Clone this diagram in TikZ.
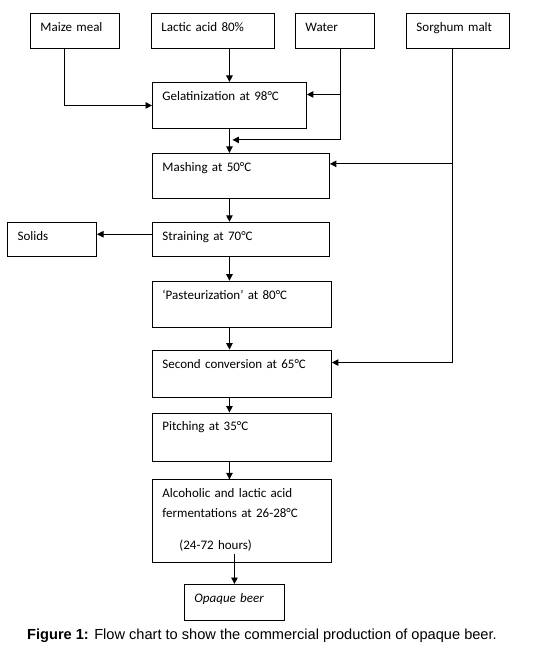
\documentclass[tikz,border=0pt]{standalone}
\usepackage{fontspec}
\setmainfont{Carlito}
\newfontfamily\arialfont{Liberation Sans}
\usepackage{tikz}
\usetikzlibrary{arrows.meta,calc,positioning}
\tikzset{
  caja/.style={
    draw,
    line width=.9pt,
    anchor=north west,
    align=left,
    inner xsep=10pt,
    inner ysep=0pt,
    text height=18pt,
    font=\fontsize{13}{20}\selectfont
  },
  flecha/.style={
    -{Triangle[length=6.5pt,width=6.5pt]},
    line width=.9pt
  }
}

\begin{document}
\begin{tikzpicture}[x=1pt,y=-1pt]
\useasboundingbox (0,0) rectangle (544,655);
% entradas
\node[caja, text width=69pt, text depth=17pt] (maize) at (30,13) {Maize meal};
\node[caja, text width=103pt, text depth=17pt] (lactic) at (151,13) {Lactic acid 80\%};
\node[caja, text width=59pt, text depth=17pt] (water) at (295,13) {Water};
\node[caja, text width=83pt, text depth=17pt] (sorghum) at (406,13) {Sorghum malt};
% proceso
\node[caja, text width=134pt, text depth=28pt] (gel) at (152,82) {Gelatinization at 98°C};
\node[caja, below=24pt of gel.south west, anchor=north west, text width=157pt, text depth=27pt] (mash) {Mashing at 50°C};
\node[caja, below=23pt of mash.south west, anchor=north west, text width=157pt, text depth=16pt] (strain) {Straining at 70°C};
\node[caja, left=55pt of strain, text width=69pt, text depth=16pt] (solids) {Solids};
\node[caja, below=24pt of strain.south west, anchor=north west, text width=159pt, text depth=28pt] (past) {‘Pasteurization’ at 80°C};
\node[caja, below=22pt of past.south west, anchor=north west, text width=159pt, text depth=29pt] (second) {Second conversion at 65°C};
\node[caja, below=15pt of second.south west, anchor=north west, text width=159pt, text depth=30pt] (pitch) {Pitching at 35°C};
\node[caja, below=18pt of pitch.south west, anchor=north west, text width=159pt, text depth=65pt] (alco) {Alcoholic and lactic acid\\fermentations at 26-28°C\\[12pt]\hspace*{17pt}(24-72 hours)};
\node[caja, text width=80pt, text depth=18pt] (opaque) at (184,584) {\itshape Opaque beer};
\node[font=\arialfont\fontsize{14.6}{17}\selectfont] (pie) at (262,636) {\textbf{Figure 1:} Flow chart to show the commercial production of opaque beer.};
% conectores
\coordinate (w) at ([xshift=5pt]water.south);
\coordinate (s) at ([xshift=-6pt]sorghum.south);
\draw[flecha] ([xshift=-11pt]maize.south) |- (gel.west);
\draw[flecha] (lactic.south -| gel.north) -- (gel.north);
\draw[flecha] (w) |- ([yshift=11pt]gel.east);
\draw[flecha] (w) |- ($(gel.south)+(3pt,-11pt)$);
\draw[flecha] (gel.south) -- (gel.south |- mash.north);
\draw[flecha] (s) |- ([yshift=12pt]mash.east);
\draw[flecha] (gel.south |- mash.south) -- (gel.south |- strain.north);
\draw[flecha] ([yshift=5pt]strain.west) -- ([yshift=5pt]solids.east);
\draw[flecha] (gel.south |- strain.south) -- (gel.south |- past.north);
\draw[flecha] (gel.south |- past.south) -- (gel.south |- second.north);
\draw[flecha] (s) |- ([yshift=11pt]second.east);
\draw[flecha] (gel.south |- second.south) -- (gel.south |- pitch.north);
\draw[flecha] (gel.south |- pitch.south) -- (gel.south |- alco.north);
\draw[flecha] ($(opaque.north |- alco.south)+(0,9pt)$) -- (opaque.north);
\end{tikzpicture}
\end{document}
